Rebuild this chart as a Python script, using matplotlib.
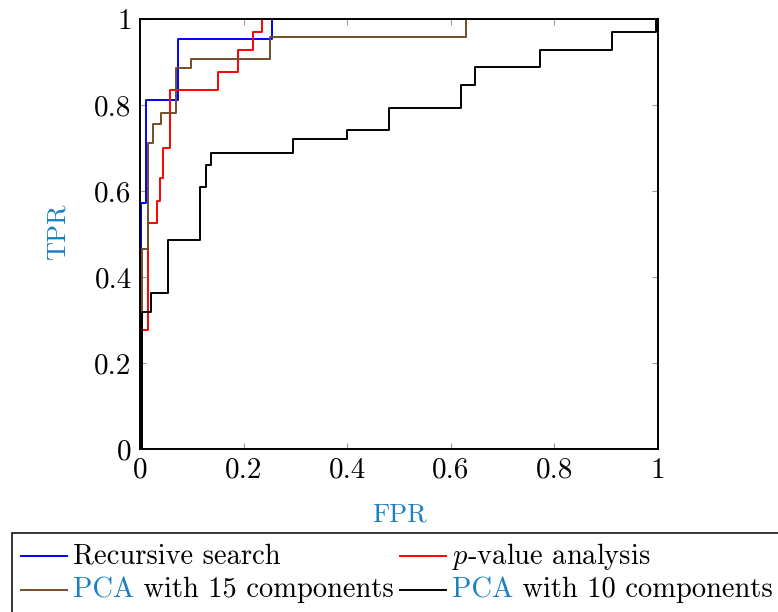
import matplotlib
matplotlib.use("Agg")
import matplotlib.pyplot as plt
from matplotlib.lines import Line2D
from matplotlib.patches import Rectangle

plt.rcParams["font.family"] = ["cmr10", "DejaVu Serif"]
plt.rcParams["mathtext.fontset"] = "cm"
plt.rcParams["axes.unicode_minus"] = False

# ROC corner points (FPR, TPR): curve runs right, then up to the next point
rs_fpr = [0.0, 0.001, 0.011, 0.073, 0.254, 1.0]
rs_tpr = [0.0, 0.571, 0.811, 0.953, 1.0, 1.0]

pv_fpr = [0.0, 0.002, 0.015, 0.033, 0.039, 0.045, 0.057, 0.151, 0.190, 0.2175, 0.236, 1.0]
pv_tpr = [0.0, 0.277, 0.526, 0.577, 0.630, 0.700, 0.835, 0.877, 0.928, 0.969, 1.0, 1.0]

p15_fpr = [0.0, 0.004, 0.016, 0.0255, 0.040, 0.069, 0.0985, 0.250, 0.630, 1.0]
p15_tpr = [0.0, 0.464, 0.712, 0.755, 0.782, 0.887, 0.907, 0.959, 1.0, 1.0]

p10_fpr = [0.0, 0.004, 0.022, 0.055, 0.116, 0.127, 0.138, 0.296, 0.399, 0.481,
           0.620, 0.647, 0.773, 0.912, 0.997, 1.0]
p10_tpr = [0.0, 0.319, 0.362, 0.486, 0.609, 0.660, 0.689, 0.722, 0.743, 0.794,
           0.846, 0.888, 0.928, 0.970, 1.0, 1.0]

ticks = [0, 0.2, 0.4, 0.6, 0.8, 1]
tick_labels = ["0", "0.2", "0.4", "0.6", "0.8", "1"]

BLUE_TXT = "#1a7fc3"
BROWN = (0.45, 0.30, 0.15)
W, H = 778, 612

fig = plt.figure(figsize=(W / 100, H / 100), dpi=100)
ax = fig.add_axes([140 / W, 1 - 449 / H, 518 / W, 430 / H])

series = [
    (rs_fpr, rs_tpr, "blue"),
    (pv_fpr, pv_tpr, "red"),
    (p15_fpr, p15_tpr, BROWN),
    (p10_fpr, p10_tpr, "black"),
]
for fpr, tpr, col in series:
    ax.step(fpr, tpr, where="post", color=col, lw=1.4)

ax.set_xlim(0, 1)
ax.set_ylim(0, 1)
ax.set_xticks(ticks)
ax.set_xticklabels(tick_labels)
ax.set_yticks(ticks)
ax.set_yticklabels(tick_labels)
ax.tick_params(direction="in", length=4.5, width=0.8, color="0.6",
               top=True, right=True, labelsize=21, pad=6)
for sp in ax.spines.values():
    sp.set_linewidth(1.4)

fig.text(400 / W, 1 - 515 / H, "FPR", color=BLUE_TXT, fontsize=19,
         ha="center", va="center")
fig.text(58 / W, 1 - 232 / H, "TPR", color=BLUE_TXT, fontsize=19,
         ha="center", va="center", rotation=90)

# legend box (drawn by hand so "PCA" can be coloured)
fig.add_artist(Rectangle((12 / W, 1 - 640 / H), 790 / W, 107 / H,
                         transform=fig.transFigure, fill=False,
                         edgecolor="black", lw=1.1, clip_on=False))

legend_rows = [
    [("", "Recursive search", "blue"), ("", "$p$-value analysis", "red")],
    [("PCA", " with 15 components", BROWN), ("PCA", " with 10 components", "black")],
]
col_x = [21, 400]
row_y = [556, 590]
for r, row in enumerate(legend_rows):
    for c, (pre, rest, col) in enumerate(row):
        y = 1 - row_y[r] / H
        fig.add_artist(Line2D([col_x[c] / W, (col_x[c] + 46) / W], [y, y],
                              transform=fig.transFigure, color=col, lw=1.4))
        tx = (col_x[c] + 52) / W
        if pre:
            t1 = fig.text(tx, y, pre, color=BLUE_TXT, fontsize=20.5,
                          ha="left", va="center")
            ax.annotate(rest, xy=(1, 0), xycoords=t1, fontsize=20.5,
                        ha="left", va="bottom", annotation_clip=False)
        else:
            fig.text(tx, y, rest, fontsize=20.5, ha="left", va="center")

fig.savefig("out.png", dpi=100)
